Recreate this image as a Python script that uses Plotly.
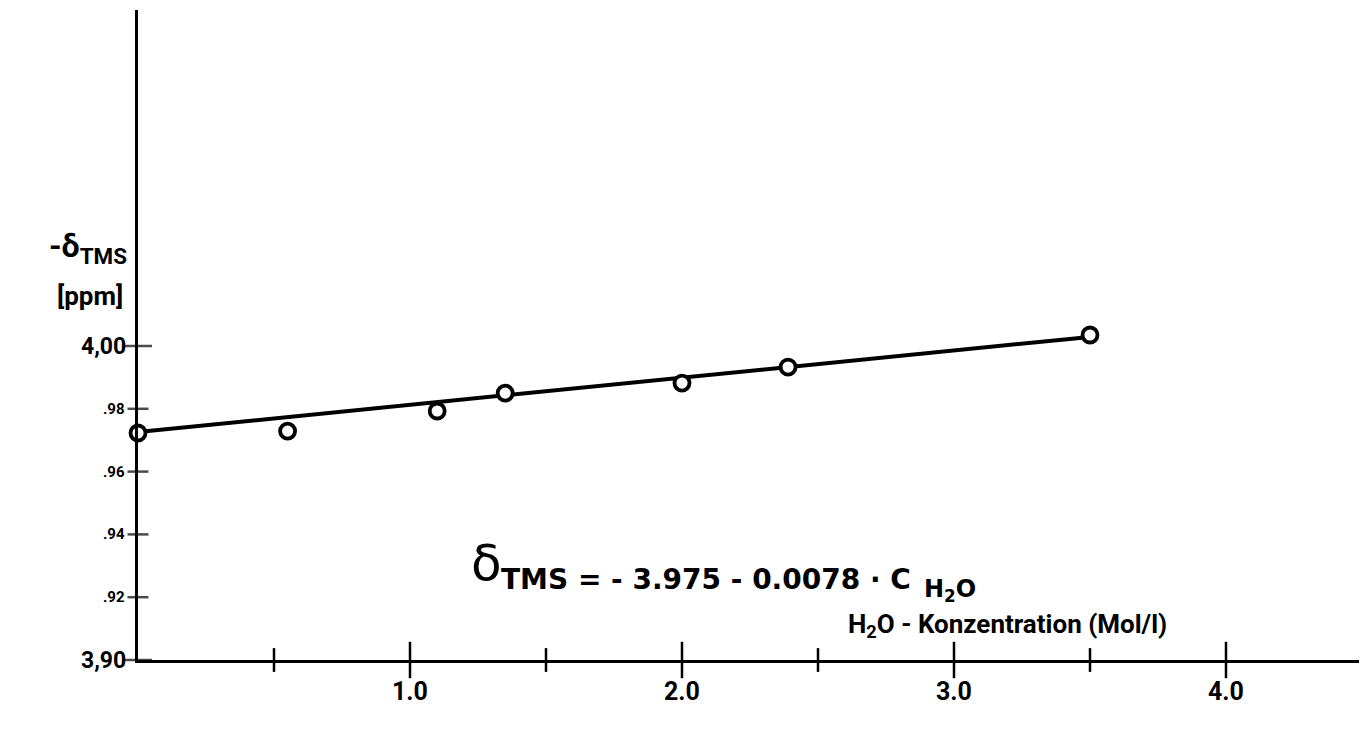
import plotly.graph_objects as go

# ---- data ----
conc = [0.0, 0.55, 1.10, 1.35, 2.00, 2.39, 3.50]                     # H2O concentration (Mol/l)
shift = [3.9723, 3.9729, 3.9793, 3.9850, 3.9882, 3.9933, 4.0035]     # -delta_TMS (ppm)
fit_conc = [0.0, 3.5]                 # ends of the drawn regression line
fit_shift = [3.9726, 4.0029]

x_major = [1.0, 2.0, 3.0, 4.0]
x_major_labels = ["1.0", "2.0", "3.0", "4.0"]
x_minor = [0.5, 1.5, 2.5, 3.5]
y_ticks = [3.90, 3.92, 3.94, 3.96, 3.98, 4.00]
y_tick_labels = ["3,90", ".92", ".94", ".96", ".98", "4,00"]
y_big = ["3,90", "4,00"]

# ---- geometry ----
W, H = 1367, 735
L, B, T, R = 130, 83, 2, 0
px_per_x = 272.0
px_per_y = 3140.0
x_range = [0, (W - L - R) / px_per_x]
y_range = [3.90, 3.90 + (H - B - T) / px_per_y]

FONT = "Roboto"
EQFONT = "DejaVu Sans"


def px(xpx, ypx):
    return (xpx - L) / (W - L - R), (H - B - ypx) / (H - B - T)


fig = go.Figure()

fig.add_trace(go.Scatter(x=fit_conc, y=fit_shift, mode="lines",
                         line=dict(color="black", width=4), hoverinfo="skip"))

# x ticks (crossing the axis)
fig.add_trace(go.Scatter(x=x_minor, y=[y_range[0]] * len(x_minor), mode="markers",
                         marker=dict(symbol="line-ns", size=17, line=dict(width=2.5, color="black")),
                         cliponaxis=False, hoverinfo="skip"))
fig.add_trace(go.Scatter(x=x_major, y=[y_range[0]] * len(x_major), mode="markers",
                         marker=dict(symbol="line-ns", size=26, line=dict(width=2.5, color="black")),
                         cliponaxis=False, hoverinfo="skip"))
# y ticks (crossing the axis)
fig.add_trace(go.Scatter(x=[0] * len(y_ticks), y=y_ticks, mode="markers",
                         marker=dict(symbol="line-ew",
                                     size=[20 if t in y_big else 15 for t in y_tick_labels],
                                     line=dict(width=2.5, color="black")),
                         cliponaxis=False, hoverinfo="skip"))

# data points
fig.add_trace(go.Scatter(x=conc, y=shift, mode="markers",
                         marker=dict(symbol="circle", size=15, color="white",
                                     line=dict(color="black", width=3.8)),
                         cliponaxis=False))

ann = []
for v, t in zip(y_ticks, y_tick_labels):
    big = t in y_big
    ann.append(dict(x=0, y=v, xref="x", yref="y", text=t, showarrow=False,
                    xanchor="right", yanchor="middle", xshift=-10 if big else -11,
                    font=dict(family=FONT, size=23 if big else 15, color="black", weight="bold")))
for v, t in zip(x_major, x_major_labels):
    ann.append(dict(x=v, y=y_range[0], xref="x", yref="y", text=t, showarrow=False,
                    xanchor="center", yanchor="top", yshift=-15,
                    font=dict(family=FONT, size=25, color="black", weight="bold")))

# axis titles
xp, yp = px(999, 617)
ann.append(dict(x=xp, y=yp, xref="paper", yref="paper",
                text="H<sub>2</sub>O - Konzentration (Mol/l)", showarrow=False,
                xanchor="center", yanchor="middle",
                font=dict(family=FONT, size=26, color="black", weight="bold")))
xp, yp = px(80, 240)
ann.append(dict(x=xp, y=yp, xref="paper", yref="paper",
                text="-δ<sub>TMS</sub>", showarrow=False, xanchor="center", yanchor="middle",
                font=dict(family=FONT, size=32, color="black", weight="bold")))
xp, yp = px(82, 288)
ann.append(dict(x=xp, y=yp, xref="paper", yref="paper",
                text="[ppm]", showarrow=False, xanchor="center", yanchor="middle",
                font=dict(family=FONT, size=26, color="black", weight="bold")))

# regression equation
xp, yp = px(461, 555)
ann.append(dict(x=xp, y=yp, xref="paper", yref="paper", text="δ", showarrow=False,
                xanchor="left", yanchor="middle",
                font=dict(family=EQFONT, size=50, color="black")))
xp, yp = px(491, 571)
ann.append(dict(x=xp, y=yp, xref="paper", yref="paper",
                text="TMS = - 3.975 - 0.0078 · C", showarrow=False,
                xanchor="left", yanchor="middle",
                font=dict(family=EQFONT, size=28, color="black", weight="bold")))
xp, yp = px(914, 582)
ann.append(dict(x=xp, y=yp, xref="paper", yref="paper",
                text="H<sub>2</sub>O", showarrow=False,
                xanchor="left", yanchor="middle",
                font=dict(family=EQFONT, size=24, color="black", weight="bold")))

fig.update_layout(
    width=W, height=H,
    margin=dict(l=L, r=R, t=T, b=B),
    paper_bgcolor="white", plot_bgcolor="white",
    showlegend=False,
    annotations=ann,
    xaxis=dict(range=x_range, showgrid=False, zeroline=False, showticklabels=False,
               ticks="", showline=True, linewidth=2.8, linecolor="black", fixedrange=True),
    yaxis=dict(range=y_range, showgrid=False, zeroline=False, showticklabels=False,
               ticks="", showline=True, linewidth=2.8, linecolor="black", fixedrange=True),
)

fig.write_html("out.html")
